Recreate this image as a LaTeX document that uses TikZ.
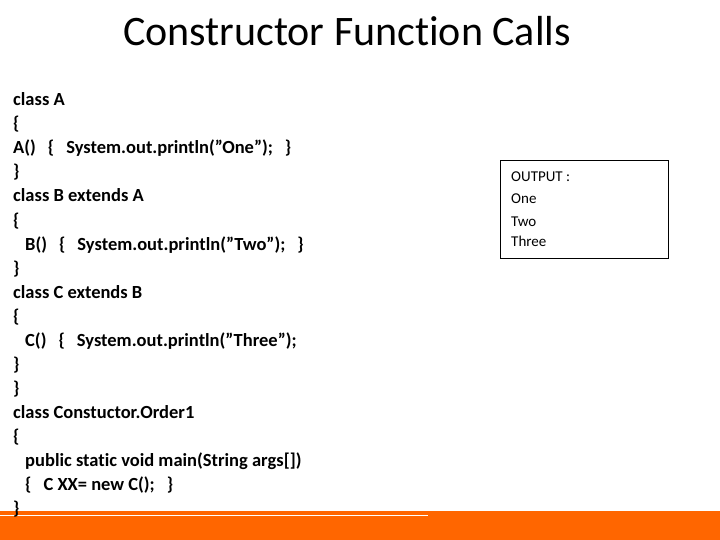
\documentclass[tikz,border=0pt]{standalone}
\usepackage{fontspec}
\setmainfont{Carlito}[Ligatures=NoCommon]
\definecolor{barorange}{RGB}{255,102,0}
\newcommand{\qq}{\symbol{34}}
\newcommand{\gp}{\hspace{12pt}}
\begin{document}
\begin{tikzpicture}[x=1pt,y=-1pt,
  code/.style={anchor=base west,inner sep=0pt,font=\fontsize{18.5}{18}\selectfont\bfseries},
  outtext/.style={anchor=base west,inner sep=0pt,font=\fontsize{15}{15}\selectfont}]
\useasboundingbox (0,0) rectangle (720,540);
\fill[white] (0,0) rectangle (720,540);
\fill[barorange] (0,511) rectangle (720,540);
\draw[white,line width=1pt] (0,515.5) -- (428,515.5);
\node[anchor=base,inner sep=0pt,font=\fontsize{42}{42}\selectfont] (title) at (347,46) {Constructor Function Calls};
\foreach \t [count=\i] in {
 {class A},
 {\{},
 {A()\gp\{\gp System.out.println(\qq One\qq);\gp\}},
 {\}},
 {class B extends A},
 {\{},
 {\gp B()\gp\{\gp System.out.println(\qq Two\qq);\gp\}},
 {\}},
 {class C extends B},
 {\{},
 {\gp C()\gp\{\gp System.out.println(\qq Three\qq);},
 {\}},
 {\}},
 {class Constuctor.Order1},
 {\{},
 {\gp public static void main(String args[])},
 {\gp\{\gp C~XX= new C();\gp\}},
 {\}}}
 \node[code] (l\i) at (13,{106+(\i-1)*24}) {\t};
\draw[black,line width=0.8pt] (500,160) rectangle (668,258);
\node[outtext] (o1) at (511,182) {OUTPUT :};
\node[outtext] (o2) at (511,204) {One};
\node[outtext] (o3) at (511,226) {Two};
\node[outtext] (o4) at (511,247) {Three};
\end{tikzpicture}
\end{document}
